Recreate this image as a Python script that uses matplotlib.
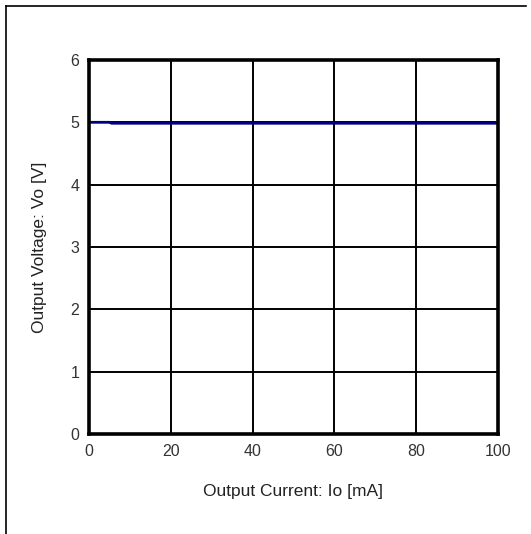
import matplotlib
matplotlib.use("Agg")
import matplotlib.pyplot as plt
from matplotlib.lines import Line2D

# Output voltage vs output current
current_ma = [0, 5, 5.5, 100]
voltage_v = [5.00, 5.00, 4.985, 4.985]
x_ticks = [0, 20, 40, 60, 80, 100]
y_ticks = [0, 1, 2, 3, 4, 5, 6]

plt.rcParams["font.family"] = ["Liberation Sans", "DejaVu Sans"]

fig = plt.figure(figsize=(5.31, 5.34), dpi=100)
ax = fig.add_axes([0.1676, 0.1873, 0.7702, 0.7004])

ax.plot(current_ma, voltage_v, color="#000080", linewidth=2.0, zorder=3)

ax.set_xlim(0, 100)
ax.set_ylim(0, 6)
ax.set_xticks(x_ticks)
ax.set_yticks(y_ticks)
ax.tick_params(length=0, labelsize=11.5, labelcolor="#333333", pad=7)
ax.grid(True, color="black", linewidth=1.4)
for s in ax.spines.values():
    s.set_linewidth(2.6)
    s.set_color("black")
    s.set_zorder(4)

ax.set_xlabel("Output Current: Io [mA]", fontsize=12.5, labelpad=18, color="#222222")
ax.set_ylabel("Output Voltage: Vo [V]", fontsize=12.5, labelpad=17, color="#222222")

# outer frame lines (top and left)
fig.add_artist(Line2D([6 / 531, 526 / 531], [1 - 6 / 534, 1 - 6 / 534],
                      transform=fig.transFigure, color="black", linewidth=1.2))
fig.add_artist(Line2D([6 / 531, 6 / 531], [1 - 6 / 534, 0],
                      transform=fig.transFigure, color="black", linewidth=1.2))

fig.savefig("out.png", dpi=100)
